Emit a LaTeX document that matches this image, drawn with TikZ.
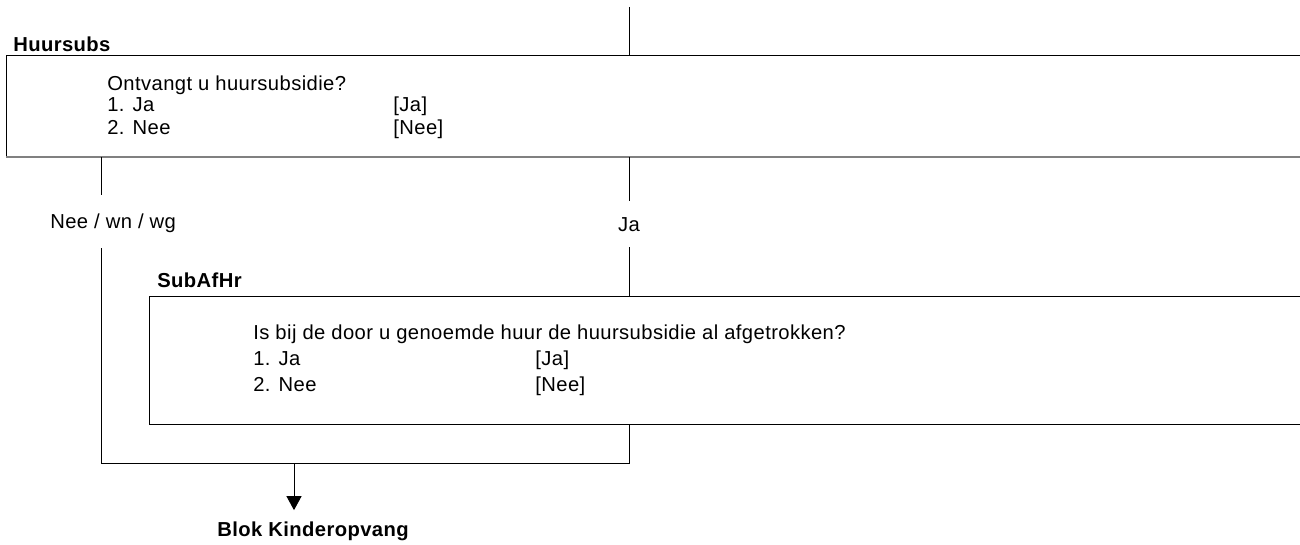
\documentclass[tikz,border=0pt]{standalone}
\usepackage{fontspec}
\setmainfont{Liberation Sans}[LetterSpace=2]
\usetikzlibrary{positioning, arrows.meta}

\begin{document}
\begin{tikzpicture}[x=0.02cm, y=-0.02cm,
      vraag/.style={draw=black, line width=0.5pt, anchor=north west, inner sep=0pt},
      tekst/.style={anchor=base west, inner sep=0pt, font=\fontsize{11.5pt}{13pt}\selectfont},
      kop/.style={tekst, font=\fontsize{11.5pt}{13pt}\selectfont\bfseries},
      tak/.style={inner sep=0pt, text height=0.29cm, text depth=0pt,
        font=\fontsize{11.5pt}{13pt}\selectfont},
      lijn/.style={black, line width=0.5pt},
      pijl/.style={lijn, -{Triangle[length=0.28cm, width=0.3cm]}}]
    \clip (0,0) rectangle (1300,544);
    \fill[white] (0,0) rectangle (1300,544);
    % vraag Huursubs
    \node[kop] (huursubs) at (13,52) {Huursubs};
    \node[vraag, minimum width=26.28cm, minimum height=2.02cm] (box1) at (6,55) {};
    \draw[gray, line width=1.1pt] (box1.south west) -- (box1.south east);
    \node[tekst] (q1) at (107,91) {Ontvangt u huursubsidie?};
    \node[tekst] (q1a) at (107,112) {1. Ja};
    \node[tekst] (q1b) at (107,134) {2. Nee};
    \node[tekst] (q1ac) at (393,112) {[Ja]};
    \node[tekst] (q1bc) at (393,134) {[Nee]};
    % takken
    \node[tak, anchor=west, minimum height=1.06cm] (nee) at (50,221.5) {Nee / wn / wg};
    \node[tak, minimum height=0.92cm] (ja) at (629,224) {Ja};
    % vraag SubAfHr
    \node[kop] (subafhr) at (157,287) {SubAfHr};
    \node[vraag, minimum width=23.42cm, minimum height=2.56cm] (box2) at (149,296) {};
    \node[tekst] (q2) at (253,339) {Is bij de door u genoemde huur de huursubsidie al afgetrokken?};
    \node[tekst] (q2a) at (253,365) {1. Ja};
    \node[tekst] (q2b) at (253,391) {2. Nee};
    \node[tekst] (q2ac) at (535,365) {[Ja]};
    \node[tekst] (q2bc) at (535,391) {[Nee]};
    % vervolg
    \node[kop, text height=0.29cm] (blok) at (217,536) {Blok Kinderopvang};
    \coordinate (start) at (629,7);
    \coordinate (links) at (101,463);
    \coordinate (rechts) at (629,463);
    \coordinate (samen) at (294,463);
    \draw[lijn] (start) -- (box1.north -| start);
    \draw[lijn] (box1.south -| links) -- (nee.north -| links);
    \draw[lijn] (nee.south -| links) -- (links) -- (rechts) -- (box2.south -| rechts);
    \draw[lijn] (box1.south -| ja) -- (ja.north);
    \draw[lijn] (ja.south) -- (box2.north -| ja);
    \draw[pijl, shorten >=0.22cm] (samen) -- (blok.north -| samen);
  \end{tikzpicture}
\end{document}
